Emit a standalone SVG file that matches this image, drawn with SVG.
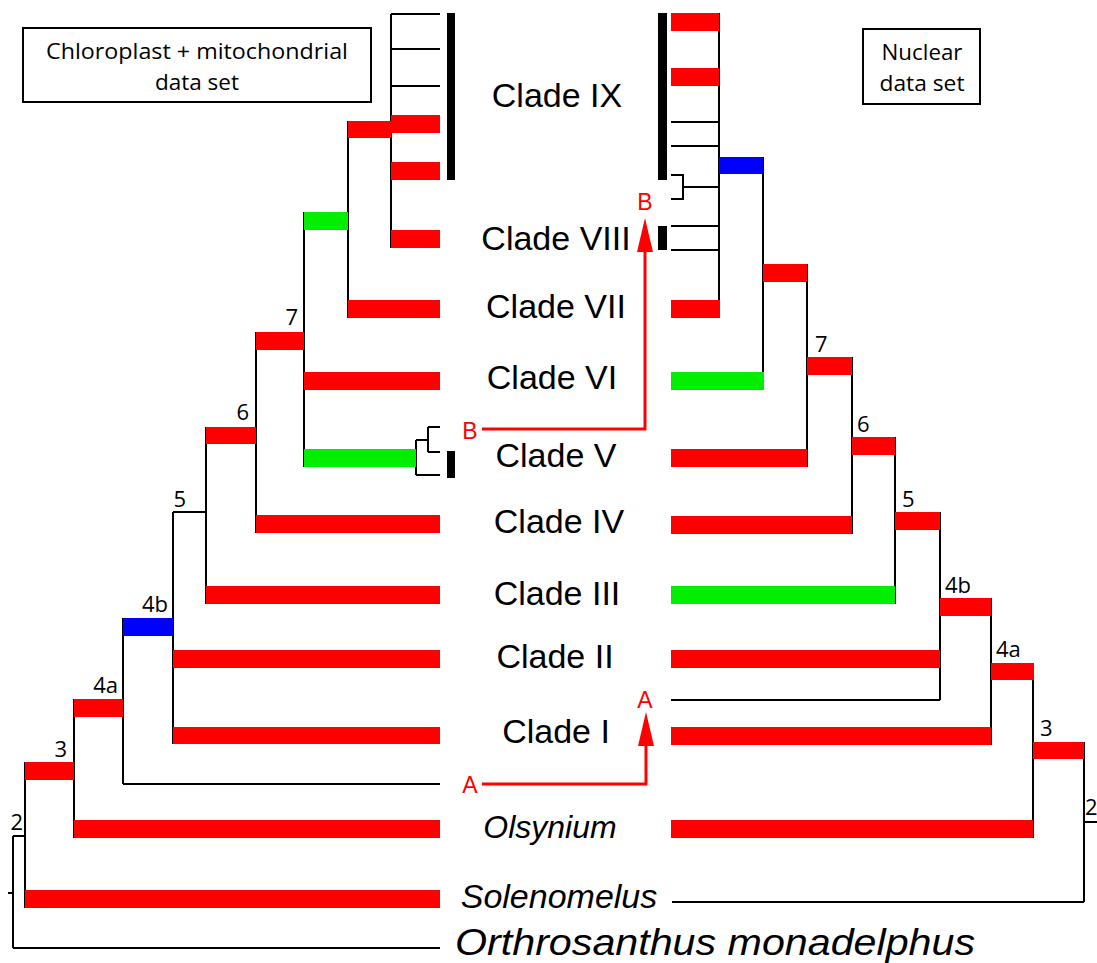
<svg xmlns="http://www.w3.org/2000/svg" width="1097" height="963" viewBox="0 0 1097 963">
<style>
.ln{stroke:#000;stroke-width:2;fill:none}
.r{fill:#ff0000}
.g{fill:#00ee00}
.b{fill:#0000ff}
.k{fill:#000}
.cl{font-family:"Liberation Sans",Arial,sans-serif;font-size:34px;fill:#000;text-anchor:middle}
.it{font-style:italic}
.num{font-family:"Open Sans","Noto Sans",sans-serif;font-size:22px;fill:#000}
.bx{font-family:"Open Sans","Noto Sans",sans-serif;font-size:22px;fill:#000;text-anchor:middle}
.ab{font-family:"Liberation Sans",Arial,sans-serif;font-size:23px;fill:#ff0000;text-anchor:middle}
.arr{stroke:#ff0000;stroke-width:3;fill:none}
</style>
<rect width="1097" height="963" fill="#fff"/>

<g id="box-left">
<rect x="23" y="28" width="348" height="74" fill="#fff" stroke="#000" stroke-width="2"/>
<text class="bx" x="197" y="59" textLength="302" lengthAdjust="spacingAndGlyphs">Chloroplast + mitochondrial</text>
<text class="bx" x="197" y="90" textLength="84" lengthAdjust="spacingAndGlyphs">data set</text>
</g>
<g id="box-right">
<rect x="863" y="29" width="117" height="75" fill="#fff" stroke="#000" stroke-width="2"/>
<text class="bx" x="922" y="60" textLength="81" lengthAdjust="spacingAndGlyphs">Nuclear</text>
<text class="bx" x="922" y="91" textLength="85" lengthAdjust="spacingAndGlyphs">data set</text>
</g>

<g id="connectors">
<path class="ln" d="M391 14V248M348 121V318M304 212V467M256 332V533M206 427V604M173 512V744M123 618V784M74 699V838M25 762V908M13 836V948"/>
<path class="ln" d="M391 14H440M391 49H440M391 86H440M173 512H206M123 784H440M13 836H25M13 948H440M8 893H13"/>
<path class="ln" d="M416 440V475M416 440H428M416 475H440M428 427V452M428 427H440M428 452H440"/>
<path class="ln" d="M719 13V318M763 157V390M807 264V467M852 357V534M895 437V604M940 512V700M991 598V745M1033 663V838M1084 742V902"/>
<path class="ln" d="M671 122H719M671 146H719M671 226H719M671 250H719M671 175H683V199H671M683 187H719M671 700H940M672 902H1084M1084 822H1097"/>
<path class="arr" d="M482 784H646V742"/>
<polygon fill="#ff0000" points="638,746 654,746 646,712"/>
<path class="arr" d="M482 429H645V250"/>
<polygon fill="#ff0000" points="637,252 653,252 645,218"/>
</g>

<g id="left-bars">
<rect class="r" x="391" y="115" width="49" height="18"/>
<rect class="r" x="391" y="162" width="49" height="18"/>
<rect class="r" x="391" y="230" width="49" height="18"/>
<rect class="r" x="348" y="121" width="43" height="17"/>
<rect class="g" x="304" y="212" width="44" height="18"/>
<rect class="r" x="348" y="300" width="92" height="18"/>
<rect class="r" x="256" y="332" width="48" height="18"/>
<rect class="r" x="304" y="372" width="136" height="18"/>
<rect class="g" x="304" y="449" width="112" height="18"/>
<rect class="r" x="206" y="427" width="50" height="17"/>
<rect class="r" x="256" y="515" width="184" height="18"/>
<rect class="r" x="206" y="586" width="234" height="18"/>
<rect class="b" x="123" y="618" width="50" height="18"/>
<rect class="r" x="173" y="650" width="267" height="18"/>
<rect class="r" x="173" y="727" width="267" height="17"/>
<rect class="r" x="74" y="699" width="49" height="18"/>
<rect class="r" x="25" y="762" width="49" height="18"/>
<rect class="r" x="74" y="820" width="366" height="18"/>
<rect class="r" x="25" y="890" width="415" height="18"/>
<rect class="k" x="447" y="13" width="8" height="167"/>
<rect class="k" x="447" y="451" width="8" height="27"/>
</g>

<g id="right-bars">
<rect class="r" x="671" y="13" width="48" height="18"/>
<rect class="r" x="671" y="68" width="48" height="18"/>
<rect class="b" x="719" y="157" width="44" height="17"/>
<rect class="r" x="671" y="300" width="49" height="18"/>
<rect class="r" x="763" y="264" width="44" height="18"/>
<rect class="g" x="671" y="372" width="93" height="18"/>
<rect class="r" x="807" y="357" width="45" height="18"/>
<rect class="r" x="671" y="449" width="136" height="18"/>
<rect class="r" x="852" y="437" width="43" height="18"/>
<rect class="r" x="671" y="516" width="181" height="18"/>
<rect class="r" x="895" y="512" width="45" height="18"/>
<rect class="g" x="671" y="586" width="224" height="18"/>
<rect class="r" x="940" y="598" width="51" height="18"/>
<rect class="r" x="671" y="650" width="269" height="18"/>
<rect class="r" x="991" y="663" width="43" height="17"/>
<rect class="r" x="671" y="727" width="320" height="18"/>
<rect class="r" x="1033" y="742" width="51" height="17"/>
<rect class="r" x="671" y="820" width="362" height="18"/>
<rect class="k" x="658" y="13" width="9" height="167"/>
<rect class="k" x="658" y="226" width="9" height="24"/>
</g>

<g id="clade-labels">
<text class="cl" x="557" y="107">Clade IX</text>
<text class="cl" x="556" y="250">Clade VIII</text>
<text class="cl" x="556" y="318">Clade VII</text>
<text class="cl" x="552" y="389">Clade VI</text>
<text class="cl" x="556" y="467">Clade V</text>
<text class="cl" x="559" y="533">Clade IV</text>
<text class="cl" x="557" y="605">Clade III</text>
<text class="cl" x="555" y="668">Clade II</text>
<text class="cl" x="556" y="743">Clade I</text>
<text class="cl it" x="550" y="838" style="font-size:32px">Olsynium</text>
<text class="cl it" x="559" y="908">Solenomelus</text>
<text class="cl it" x="715" y="955" style="font-size:36px" textLength="520" lengthAdjust="spacingAndGlyphs">Orthrosanthus monadelphus</text>
</g>

<g id="node-numbers-left">
<text class="num" x="298" y="325" text-anchor="end">7</text>
<text class="num" x="249" y="420" text-anchor="end">6</text>
<text class="num" x="186" y="507" text-anchor="end">5</text>
<text class="num" x="168" y="612" text-anchor="end">4b</text>
<text class="num" x="118" y="693" text-anchor="end">4a</text>
<text class="num" x="67" y="757" text-anchor="end">3</text>
<text class="num" x="23" y="830" text-anchor="end">2</text>
</g>
<g id="node-numbers-right">
<text class="num" x="815" y="352">7</text>
<text class="num" x="857" y="432">6</text>
<text class="num" x="902" y="507">5</text>
<text class="num" x="945" y="593">4b</text>
<text class="num" x="996" y="657">4a</text>
<text class="num" x="1040" y="736">3</text>
<text class="num" x="1085" y="815">2</text>
</g>

<g id="arrow-labels">
<text class="ab" x="470" y="793">A</text>
<text class="ab" x="645" y="708">A</text>
<text class="ab" x="470" y="439">B</text>
<text class="ab" x="645" y="210">B</text>
</g>
</svg>
